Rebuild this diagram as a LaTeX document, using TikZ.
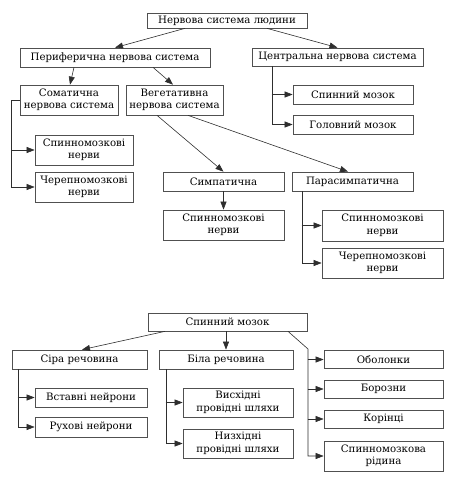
\documentclass[tikz,border=0pt]{standalone}
\usepackage{fontspec}
\setmainfont{DejaVu Serif}
\usetikzlibrary{arrows.meta}
\definecolor{ln}{HTML}{2E2E2E}
\definecolor{bx}{HTML}{505050}
\tikzset{
  box/.style={draw=bx, line width=0.7pt, fill=white, inner sep=1pt, align=center,
    font=\fontsize{10.2}{12.5}\selectfont, text=black},
  arr/.style={draw=ln, line width=0.6pt, -{Triangle[length=8pt,width=6pt]}},
  ln/.style={draw=ln, line width=0.6pt}
}
\begin{document}
\begin{tikzpicture}[x=1pt,y=-1pt]
\useasboundingbox (0,0) rectangle (453,477);
% ---------- top diagram ----------
\node[box, minimum width=160, minimum height=15] (top) at (227,20.5) {Нервова система людини};
\node[box, minimum width=190, minimum height=19] (periph) at (115,57.5) {Периферична нервова система};
\node[box, minimum width=171, minimum height=18] (central) at (337.5,57) {Центральна нервова система};
\node[box, minimum width=98, minimum height=30] (somat) at (69,100) {Соматична\\нервова система};
\node[box, minimum width=97, minimum height=30] (veget) at (174.5,100) {Вегетативна\\нервова система};
\node[box, minimum width=120, minimum height=19] (spinal) at (353,94.5) {Спинний мозок};
\node[box, minimum width=120, minimum height=19] (brain) at (353,124.5) {Головний мозок};
\node[box, minimum width=98, minimum height=30] (sn1) at (84,150) {Спинномозкові\\нерви};
\node[box, minimum width=98, minimum height=30] (cn1) at (84,187) {Черепномозкові\\нерви};
\node[box, minimum width=121, minimum height=19] (symp) at (223.5,181.5) {Симпатична};
\node[box, minimum width=121, minimum height=19] (para) at (352.5,181.5) {Парасимпатична};
\node[box, minimum width=121, minimum height=30] (sn2) at (223.5,225) {Спинномозкові\\нерви};
\node[box, minimum width=121, minimum height=31] (sn3) at (382.5,225.5) {Спинномозкові\\нерви};
\node[box, minimum width=121, minimum height=30] (cn3) at (382.5,263) {Черепномозкові\\нерви};

\draw[arr] ([xshift=-42]top.south) -- (periph.north);
\draw[arr] ([xshift=40]top.south) -- (central.north);
\draw[arr] ([xshift=-41]periph.south) -- ([xshift=1]somat.north);
\draw[arr] ([xshift=38]periph.south) -- ([xshift=-1.5]veget.north);
\draw[arr] (somat.west) -- ++(-8,0) |- (cn1.west);
\draw[arr] ([xshift=-23]sn1.west) -- (sn1.west);
\draw[arr] ([xshift=-65.5]central.south) |- (brain.west);
\draw[arr] ([xshift=-21]spinal.west) -- (spinal.west);
\draw[arr] ([xshift=-17.5]veget.south) -- (symp.north);
\draw[arr] ([xshift=13.5]veget.south) -- ([xshift=-4.5]para.north);
\draw[arr] (symp.south) -- (sn2.north);
\draw[arr] ([xshift=-50.5]para.south) |- (cn3.west);
\draw[arr] ([xshift=-20]sn3.west) -- (sn3.west);

% ---------- bottom diagram ----------
\node[box, minimum width=159, minimum height=18] (spm) at (227.5,322) {Спинний мозок};
\node[box, minimum width=135, minimum height=19] (gray) at (79.5,359.5) {Сіра речовина};
\node[box, minimum width=134, minimum height=19] (white) at (226,359.5) {Біла речовина};
\node[box, minimum width=119, minimum height=18] (obol) at (383.5,359.5) {Оболонки};
\node[box, minimum width=119, minimum height=18] (boroz) at (383.5,389) {Борозни};
\node[box, minimum width=119, minimum height=18] (korin) at (383.5,419) {Корінці};
\node[box, minimum width=119, minimum height=30] (ridyna) at (383.5,456) {Спинномозкова\\рідина};
\node[box, minimum width=112, minimum height=19] (vstav) at (91,397.5) {Вставні нейрони};
\node[box, minimum width=112, minimum height=20] (ruh) at (91,427) {Рухові нейрони};
\node[box, minimum width=110, minimum height=29] (vys) at (238,402.5) {Висхідні\\провідні шляхи};
\node[box, minimum width=110, minimum height=29] (nyz) at (238,443.5) {Низхідні\\провідні шляхи};

\coordinate (rb) at (308,349);
\draw[arr] ([xshift=-62.5]spm.south) -- ([xshift=2.5]gray.north);
\draw[arr] (white.north |- spm.south) -- (white.north);
\draw[arr] ([xshift=60.5]spm.south) -- (rb) |- (ridyna.west);
\draw[arr] ([xshift=-16]obol.west) -- (obol.west);
\draw[arr] ([xshift=-16]boroz.west) -- (boroz.west);
\draw[arr] ([xshift=-16]korin.west) -- (korin.west);
\draw[arr] ([xshift=-61.5]gray.south) |- (ruh.west);
\draw[arr] ([xshift=-17]vstav.west) -- (vstav.west);
\draw[arr] ([xshift=-60]white.south) |- (nyz.west);
\draw[arr] ([xshift=-17]vys.west) -- (vys.west);
\end{tikzpicture}
\end{document}
